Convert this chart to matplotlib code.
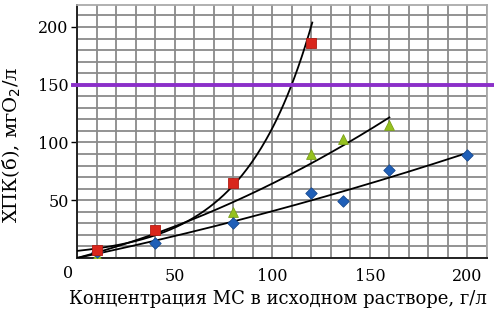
import numpy as np
import matplotlib
matplotlib.use("Agg")
import matplotlib.pyplot as plt

plt.rcParams['font.family'] = ['DejaVu Serif']

red_x = [10, 40, 80, 120]
red_y = [7, 24, 65, 186]
green_x = [10, 80, 120, 136, 160]
green_y = [2, 40, 90, 103, 115]
blue_x = [10, 40, 80, 120, 136, 160, 200]
blue_y = [5, 13, 30, 56, 49, 76, 89]
limit_y = 150
x_ticks = [50, 100, 150, 200]
y_ticks = [50, 100, 150, 200]

fig = plt.figure(figsize=(4.94, 3.09), dpi=100)
ax = fig.add_axes([77/494, 1-258/309, 410/494, 253/309])
ax.set_xlim(0, 210)
ax.set_ylim(0, 219)

ax.set_xticks(np.arange(0, 211, 10), minor=True)
ax.set_yticks(np.arange(0, 220, 10), minor=True)
ax.grid(True, which='both', color='#8a8a8a', linewidth=1.3, zorder=0)
ax.set_axisbelow(True)
ax.set_xticks(x_ticks)
ax.set_yticks(y_ticks)
ax.tick_params(which='minor', length=0)
ax.tick_params(axis='x', which='major', length=0, labelsize=11.5, pad=7)
ax.tick_params(axis='y', which='major', length=4, width=1, labelsize=11.5, pad=2)
for s in ['left', 'bottom']:
    ax.spines[s].set_color('#222222')
    ax.spines[s].set_linewidth(1.4)
for s in ['right', 'top']:
    ax.spines[s].set_color('#aaaaaa')
    ax.spines[s].set_linewidth(1.3)

# trendlines fitted from the data
xr = np.linspace(0, 120.5, 200)
b, lna = np.polyfit(red_x, np.log(red_y), 1)
ax.plot(xr, np.exp(lna) * np.exp(b * xr), color='black', lw=1.3, zorder=3)

def quad0(xs, ys, xmax):
    xs = np.asarray(xs, float); ys = np.asarray(ys, float)
    A = np.column_stack([xs, xs**2])
    c, *_ = np.linalg.lstsq(A, ys, rcond=None)
    xx = np.linspace(0, xmax, 200)
    return xx, c[0]*xx + c[1]*xx**2

gx, gy = quad0(green_x, green_y, 160)
ax.plot(gx, gy, color='black', lw=1.3, zorder=3)
bx, by = quad0(blue_x, blue_y, 200)
ax.plot(bx, by, color='black', lw=1.3, zorder=3)

ax.plot([-2, 213], [limit_y, limit_y], color='#8b2fc9', lw=2.8, clip_on=False, zorder=4)

ax.scatter(green_x, green_y, marker='^', s=50, color='#96c11f', edgecolors='#7aa018', linewidths=0.6, zorder=5)
ax.scatter(blue_x, blue_y, marker='D', s=34, color='#1f5fb8', edgecolors='#174a90', linewidths=0.6, zorder=5)
ax.scatter(red_x, red_y, marker='s', s=50, color='#d9261c', edgecolors='#b01c14', linewidths=0.6, zorder=6)

ax.set_xlabel('Концентрация МС в исходном растворе, г/л', fontsize=13)
ax.xaxis.set_label_coords(0.489, -0.125)
ax.set_ylabel('ХПК(б), мгО$_2$/л', fontsize=14)
ax.yaxis.set_label_coords(-0.132, 0.447)
ax.text(-4.6, -13, '0', fontsize=11.5, ha='center', va='center', transform=ax.transData)

fig.savefig('out.png', dpi=100)
